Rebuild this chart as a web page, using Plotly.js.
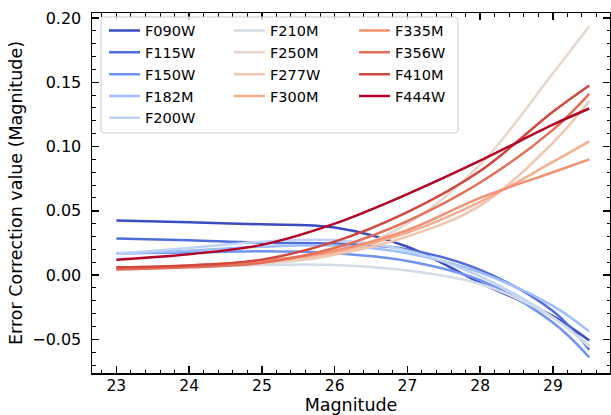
<!DOCTYPE html>
<html>
<head>
<meta charset="utf-8">
<script src="https://cdn.plot.ly/plotly-3.0.1.min.js"></script>
<style>html,body{margin:0;padding:0;background:#fff;}#chart{width:611px;height:415px;}</style>
</head>
<body>
<div id="chart"></div>
<script>
// Magnitude sample points (x)
const magnitudes = [23, 24, 25, 26, 27, 28, 29, 29.5];

// Filter names
const filters = ["F090W","F115W","F150W","F182M","F200W","F210M","F250M","F277W","F300M","F335M","F356W","F410M","F444W"];

// Error-correction values per filter, read at the magnitudes above
const F090W = [0.0425, 0.041, 0.0395, 0.037, 0.022, -0.006, -0.032, -0.051];
const F115W = [0.0285, 0.027, 0.0252, 0.0245, 0.020, 0.004, -0.028, -0.058];
const F150W = [0.017, 0.0175, 0.0185, 0.017, 0.011, -0.004, -0.037, -0.064];
const F182M = [0.0165, 0.019, 0.022, 0.023, 0.017, 0.002, -0.024, -0.044];
const F200W = [0.0165, 0.021, 0.026, 0.027, 0.019, -0.001, -0.033, -0.055];
const F210M = [0.004, 0.0062, 0.0078, 0.0078, 0.0035, -0.007, -0.033, -0.056];
const F250M = [0.005, 0.0065, 0.009, 0.016, 0.040, 0.086, 0.157, 0.1936];
const F277W = [0.004, 0.0065, 0.010, 0.016, 0.030, 0.054, 0.103, 0.1355];
const F300M = [0.0045, 0.007, 0.011, 0.018, 0.033, 0.057, 0.088, 0.104];
const F335M = [0.005, 0.0075, 0.011, 0.019, 0.035, 0.060, 0.080, 0.090];
const F356W = [0.0045, 0.006, 0.0095, 0.021, 0.042, 0.072, 0.113, 0.141];
const F410M = [0.006, 0.0075, 0.012, 0.026, 0.049, 0.081, 0.127, 0.1475];
const F444W = [0.012, 0.0162, 0.0235, 0.040, 0.063, 0.089, 0.117, 0.1296];

const seriesValues = [F090W, F115W, F150W, F182M, F200W, F210M, F250M, F277W, F300M, F335M, F356W, F410M, F444W];

// coolwarm-like colours
const colors = ["#3b4cc0","#516ddb","#6f92f3","#9ebeff","#bcd2f6","#d3dbe7","#e7d6cc","#f4c5ad","#f6ad90","#f29072","#e46e56","#d0473d","#b40426"];

// legend column assignment (column-first, 5/4/4)
const legendCols = ["legend","legend","legend","legend","legend","legend2","legend2","legend2","legend2","legend3","legend3","legend3","legend3"];

const traces = filters.map((name, i) => ({
  type: "scatter",
  mode: "lines",
  x: magnitudes,
  y: seriesValues[i],
  name: name,
  line: {color: colors[i], width: 2.5, shape: "spline", smoothing: 1},
  legend: legendCols[i]
}));

// plot area geometry (px)
const W = 611, H = 415, L = 92, R = 1, T = 13, B = 42;
const pw = W - L - R, ph = H - T - B;
const px = v => (v - L) / pw;
const py = v => 1 - (v - T) / ph;

const legFont = {family: "DejaVu Sans", size: 14.5, color: "#000"};
function leg(xpx) {
  return {x: px(xpx), y: py(14.5), xanchor: "left", yanchor: "top", bgcolor: "rgba(0,0,0,0)", borderwidth: 0, font: legFont, orientation: "v", tracegroupgap: 0, itemwidth: 31};
}

// rounded legend frame
const fx0 = px(101), fx1 = px(458), fy0 = py(133), fy1 = py(17);
const rx = 3 / pw, ry = 3 / ph;
const framePath = `M ${fx0+rx} ${fy1} L ${fx1-rx} ${fy1} Q ${fx1} ${fy1} ${fx1} ${fy1-ry} L ${fx1} ${fy0+ry} Q ${fx1} ${fy0} ${fx1-rx} ${fy0} L ${fx0+rx} ${fy0} Q ${fx0} ${fy0} ${fx0} ${fy0+ry} L ${fx0} ${fy1-ry} Q ${fx0} ${fy1} ${fx0+rx} ${fy1} Z`;

const yTickFont = {family: "DejaVu Sans", size: 16, color: "#000"};
const xTickFont = {family: "DejaVu Sans", size: 15.5, color: "#000"};
const titleFont = {family: "DejaVu Sans", size: 17.5, color: "#000"};

const layout = {
  width: W, height: H,
  margin: {l: L, r: R, t: T, b: B, pad: 0},
  paper_bgcolor: "#fff", plot_bgcolor: "#fff",
  font: {family: "DejaVu Sans", color: "#000"},
  showlegend: true,
  legend: leg(104),
  legend2: leg(229),
  legend3: leg(354),
  xaxis: {
    range: [22.665, 29.785],
    tick0: 23, dtick: 1,
    ticks: "inside", ticklen: 7, tickwidth: 1.5, tickcolor: "#000",
    minor: {dtick: 0.2, tick0: 23, ticks: "inside", ticklen: 3.5, tickwidth: 1, tickcolor: "#000", showgrid: false},
    showline: true, linecolor: "#000", linewidth: 1.5, mirror: "ticks",
    showgrid: false, zeroline: false,
    tickfont: xTickFont,
    ticklabelstandoff: -2,
    title: {text: "Magnitude", font: titleFont, standoff: 10}
  },
  yaxis: {
    range: [-0.0762, 0.2039],
    tick0: 0, dtick: 0.05, tickformat: ".2f",
    ticks: "inside", ticklen: 7, tickwidth: 1.5, tickcolor: "#000",
    minor: {dtick: 0.01, tick0: 0, ticks: "inside", ticklen: 3.5, tickwidth: 1, tickcolor: "#000", showgrid: false},
    showline: true, linecolor: "#000", linewidth: 1.5, mirror: "ticks",
    showgrid: false, zeroline: false,
    tickfont: yTickFont,
    ticklabelstandoff: 6,
    title: {text: "Error Correction value (Magnitude)", font: titleFont, standoff: 5}
  },
  shapes: [{
    type: "path", xref: "paper", yref: "paper", path: framePath,
    fillcolor: "rgba(255,255,255,0.8)", line: {color: "#cccccc", width: 1}, layer: "above"
  }]
};

Plotly.newPlot("chart", traces, layout, {staticPlot: true, displayModeBar: false});
</script>
</body>
</html>
